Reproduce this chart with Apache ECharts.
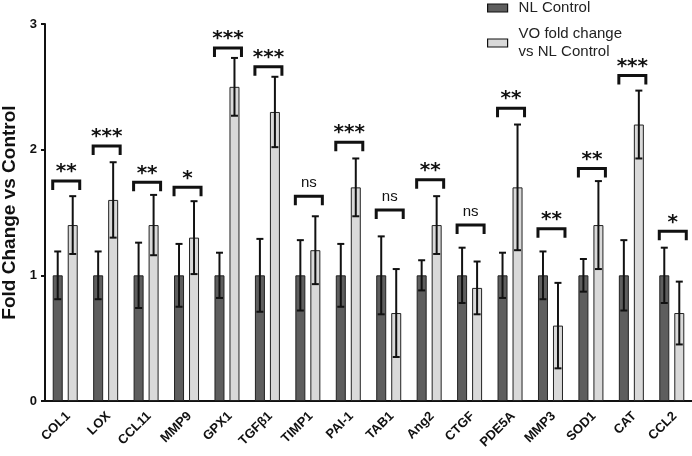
<!DOCTYPE html>
<html>
<head>
<meta charset="utf-8">
<title>Fold Change vs Control</title>
<script src="https://cdn.jsdelivr.net/npm/echarts/dist/echarts.min.js"></script>
<style>
	html, body { margin: 0; padding: 0; background: #fff; }
	#chart { width: 692px; height: 456px; }
</style>
</head>
<body>
<div id="chart"></div>
<script>
// gene names on the x axis
var categories = ['COL1', 'LOX', 'CCL11', 'MMP9', 'GPX1', 'TGFβ1', 'TIMP1', 'PAI-1',
	'TAB1', 'Ang2', 'CTGF', 'PDE5A', 'MMP3', 'SOD1', 'CAT', 'CCL2'];

// NL Control: mean and error
var nlMean = [1, 1, 1, 1, 1, 1, 1, 1, 1, 1, 1, 1, 1, 1, 1, 1];
var nlErr = [0.19, 0.19, 0.26, 0.25, 0.18, 0.29, 0.28, 0.25, 0.31, 0.12, 0.22, 0.18, 0.19, 0.13, 0.28, 0.22];

// VO fold change vs NL Control: mean and error
var voMean = [1.40, 1.60, 1.40, 1.30, 2.50, 2.30, 1.20, 1.70, 0.70, 1.40, 0.90, 1.70, 0.60, 1.40, 2.20, 0.70];
var voErr = [0.23, 0.30, 0.24, 0.29, 0.23, 0.28, 0.27, 0.23, 0.35, 0.23, 0.21, 0.50, 0.34, 0.35, 0.27, 0.25];

// significance brackets: height and label
var bracketY = [1.75, 2.03, 1.74, 1.70, 2.81, 2.66, 1.63, 2.06, 1.52, 1.76, 1.40, 2.33, 1.37, 1.85, 2.59, 1.35];
var sigLabels = ['**', '***', '**', '*', '***', '***', 'ns', '***', 'ns', '**', 'ns', '**', '**', '**', '***', '*'];

var yTicks = [0, 1, 2, 3];

var BAR_W = 10 ;
var INK = '#111' ;

function buildErrData(means, errs){
	var out = [] ;
	for (var i = 0; i < means.length; i++) {
		out.push([i, means[i], errs[i]]);
	}
	return out ;
}

function buildBracketData(){
	var out = [] ;
	for (var i = 0; i < categories.length; i++) {
		out.push([i, bracketY[i], sigLabels[i]]);
	}
	return out ;
}

function buildLabelData(){
	var out = [] ;
	for (var i = 0; i < categories.length; i++) {
		out.push([i, yTicks[0]]);
	}
	return out ;
}

// error bar drawn through the bar, dx = pixel shift from category centre
function errorRenderer(dx){
	return function(params, api){
		var idx = api.value(0) ;
		var m = api.value(1) ;
		var e = api.value(2) ;
		var hi = api.coord([idx, m + e]) ;
		var lo = api.coord([idx, m - e]) ;
		var x = hi[0] + dx ;
		var cap = 3.5 ;
		var style = { stroke: INK, lineWidth: 2 } ;
		return {
			type: 'group',
			children: [
				{ type: 'line', shape: { x1: x, y1: hi[1], x2: x, y2: lo[1] }, style: style },
				{ type: 'line', shape: { x1: x - cap, y1: hi[1], x2: x + cap, y2: hi[1] }, style: style },
				{ type: 'line', shape: { x1: x - cap, y1: lo[1], x2: x + cap, y2: lo[1] }, style: style }
			]
		};
	};
}

function bracketRenderer(params, api){
	var idx = api.value(0) ;
	var p = api.coord([idx, api.value(1)]) ;
	var label = sigLabels[idx] ;
	var x1 = p[0] - 12.5, x2 = p[0] + 14.5, y = p[1], leg = 9 ;
	var isNs = label === 'ns' ;
	return {
		type: 'group',
		children: [
			{
				type: 'polyline',
				shape: { points: [[x1, y + leg], [x1, y], [x2, y], [x2, y + leg]] },
				style: { stroke: INK, lineWidth: 3, fill: null }
			},
			{
				type: 'text',
				x: (x1 + x2) / 2,
				y: isNs ? y - 13 : y - 9,
				style: {
					text: label,
					fill: INK,
					align: 'center',
					verticalAlign: 'middle',
					font: isNs ? 'normal 15px "Liberation Sans", Arial, sans-serif'
						: 'bold 20px "DejaVu Sans", sans-serif'
				}
			}
		]
	};
}

// slanted category labels, anchored at each tick under the axis
function labelRenderer(params, api){
	var idx = api.value(0) ;
	var p = api.coord([idx, api.value(1)]) ;
	return {
		type: 'text',
		x: p[0] + 3,
		y: p[1] + 13,
		rotation: Math.PI / 4,
		style: {
			text: categories[idx],
			fill: INK,
			align: 'right',
			verticalAlign: 'middle',
			font: 'bold 13px "Liberation Sans", Arial, sans-serif'
		}
	};
}

var chart = echarts.init(document.getElementById('chart'));

var option = {
	animation: false,
	backgroundColor: '#fff',
	textStyle: { fontFamily: '"Liberation Sans", Arial, sans-serif' },
	legend: {
		orient: 'vertical',
		left: 482,
		top: -6,
		icon: 'rect',
		itemWidth: 20,
		itemHeight: 8,
		itemGap: 8,
		selectedMode: false,
		data: ['NL Control', 'VO fold change\nvs NL Control'],
		itemStyle: { borderColor: '#111', borderWidth: 1.2 },
		textStyle: {
			fontSize: 15,
			lineHeight: 18,
			color: '#222',
			padding: [0, 0, 0, 6]
		}
	},
	grid: { left: 45, right: 0, top: 24, bottom: 55, containLabel: false, outerBoundsMode: 'none' },
	xAxis: {
		type: 'category',
		data: categories,
		axisLine: { lineStyle: { color: INK, width: 2 } },
		axisTick: { alignWithLabel: true, length: 5, lineStyle: { color: INK, width: 2 } },
		axisLabel: { show: false }
	},
	yAxis: {
		type: 'value',
		min: yTicks[0],
		max: yTicks[yTicks.length - 1],
		interval: 1,
		name: 'Fold Change vs Control',
		nameLocation: 'middle',
		nameGap: 24,
		nameTextStyle: { fontSize: 19, fontWeight: 'bold', color: INK },
		splitLine: { show: false },
		axisLine: { show: true, lineStyle: { color: INK, width: 2 } },
		axisTick: { show: true, length: 4, lineStyle: { color: INK, width: 2 } },
		axisLabel: { fontSize: 13, fontWeight: 'bold', color: INK, margin: 8 }
	},
	series: [
		{
			name: 'NL Control',
			type: 'bar',
			data: nlMean,
			barWidth: BAR_W,
			barGap: '50%',
			itemStyle: { color: '#5e5e5e', borderColor: '#222', borderWidth: 1 }
		},
		{
			name: 'VO fold change\nvs NL Control',
			type: 'bar',
			data: voMean,
			barWidth: BAR_W,
			itemStyle: { color: '#d9d9d9', borderColor: '#222', borderWidth: 1 }
		},
		{
			type: 'custom',
			renderItem: errorRenderer(-7.5),
			data: buildErrData(nlMean, nlErr),
			z: 5,
			silent: true
		},
		{
			type: 'custom',
			renderItem: errorRenderer(7.5),
			data: buildErrData(voMean, voErr),
			z: 5,
			silent: true
		},
		{
			type: 'custom',
			renderItem: bracketRenderer,
			data: buildBracketData(),
			z: 6,
			silent: true,
			clip: false
		},
		{
			type: 'custom',
			renderItem: labelRenderer,
			data: buildLabelData(),
			z: 6,
			silent: true,
			clip: false
		}
	]
};

chart.setOption(option);
</script>
</body>
</html>
